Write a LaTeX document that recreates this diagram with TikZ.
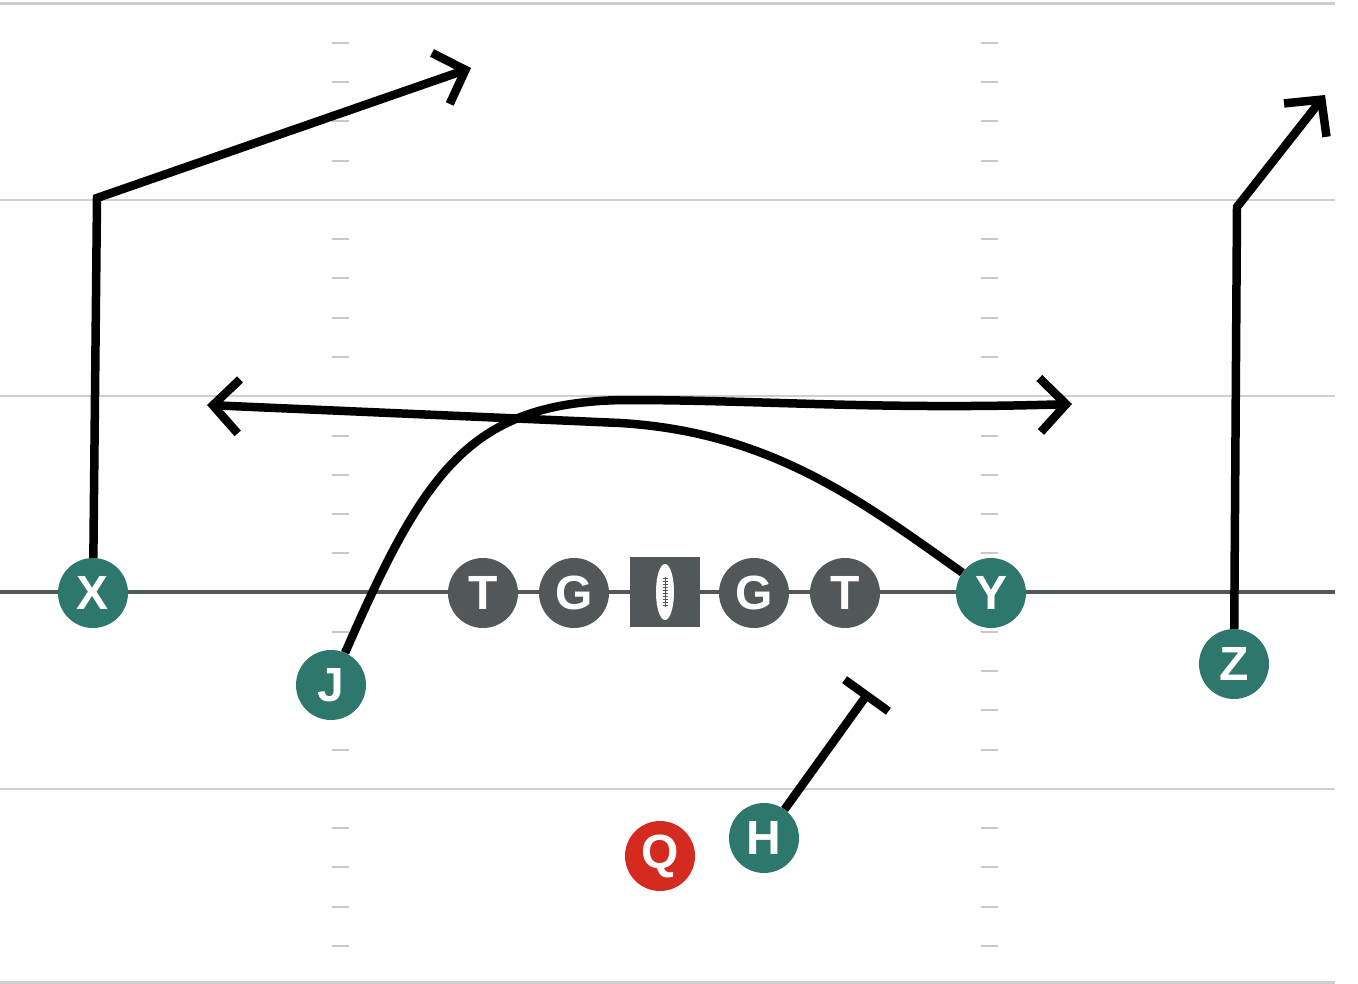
\documentclass[tikz,border=0pt]{standalone}
\usepackage{fontspec}
\setmainfont{Liberation Sans}
\usetikzlibrary{arrows.meta}
\definecolor{teal}{HTML}{2E776C}
\definecolor{oline}{HTML}{52585A}
\definecolor{qred}{HTML}{D42A20}
\definecolor{fieldline}{HTML}{CFCFCF}
\definecolor{hash}{HTML}{C8C8C8}
\tikzset{
  player/.style={circle, minimum size=70pt, inner sep=0pt, fill=teal, text=white,
    font=\fontsize{48}{48}\selectfont\bfseries},
  lineman/.style={player, fill=oline},
  qb/.style={player, fill=qred},
  ballsq/.style={rectangle, minimum size=70pt, inner sep=0pt, fill=oline},
  route/.style={line width=8.5pt, black, line join=miter},
  chev/.style={-{Straight Barb[length=26pt,width=54pt,line width=8.5pt]}},
  block/.style={-{Bar[width=54pt,line width=8.5pt]}},
}
\begin{document}
\begin{tikzpicture}[x=1pt,y=-1pt]
\useasboundingbox (0,0) rectangle (1358,984);
\fill[white] (0,0) rectangle (1358,984);
% field lines
\foreach \yy in {3.5,200,396,789,982.5}
  \draw[fieldline, line width=2.5pt] (0,\yy) -- (1335,\yy);
\draw[oline, line width=3.5pt] (0,592) -- (1335,592);
% hash marks
\foreach \k in {0,...,23}{
  \pgfmathtruncatemacro{\m}{mod(\k,5)}
  \ifnum\m=4\relax\else
    \pgfmathsetmacro{\yy}{43+\k*39.25}
    \draw[hash, line width=2pt] (332,\yy) -- (349,\yy);
    \draw[hash, line width=2pt] (981,\yy) -- (998,\yy);
  \fi
}
% players
\node[player] (X) at (93,593) {X};
\node[player] (J) at (331,685) {J};
\node[lineman] (LT) at (483,593) {T};
\node[lineman] (LG) at (574,593) {G};
\node[ballsq] (C) at (665,592) {};
\node[lineman] (RG) at (754,593) {G};
\node[lineman] (RT) at (845,593) {T};
\node[player] (Y) at (991,593) {Y};
\node[player] (Z) at (1234,664) {Z};
\node[qb] (Q) at (660,856) {Q};
\node[player] (H) at (764,838) {H};
% football
\fill[white] (C.center) ellipse (9 and 28);
\draw[oline, line width=1pt] ([yshift=-15]C.center) -- ([yshift=15]C.center);
\foreach \d in {-13,-10,...,14}
  \draw[oline, line width=0.8pt] ([xshift=-2.5,yshift=\d]C.center) -- ([xshift=2.5,yshift=\d]C.center);
% route end points
\coordinate (xb) at (97,198);
\coordinate (xe) at (471,68);
\coordinate (zb) at (1237,207);
\coordinate (ze) at (1325,95);
\coordinate (ye) at (207,405);
\coordinate (je) at (1072,404);
\coordinate (he) at (869,692);
% routes
\draw[route, chev] (X) -- (xb) -- (xe);
\draw[route, chev] (Z) -- (zb) -- (ze);
\draw[route, chev] (Y) .. controls (860,500) and (770,432) .. (620,423) -- (ye);
\draw[route, chev] (J) .. controls (425,470) and (470,402) .. (625,400)
   .. controls (760,400) and (880,410) .. (je);
\draw[route, block] (H) -- (he);
\end{tikzpicture}
\end{document}
